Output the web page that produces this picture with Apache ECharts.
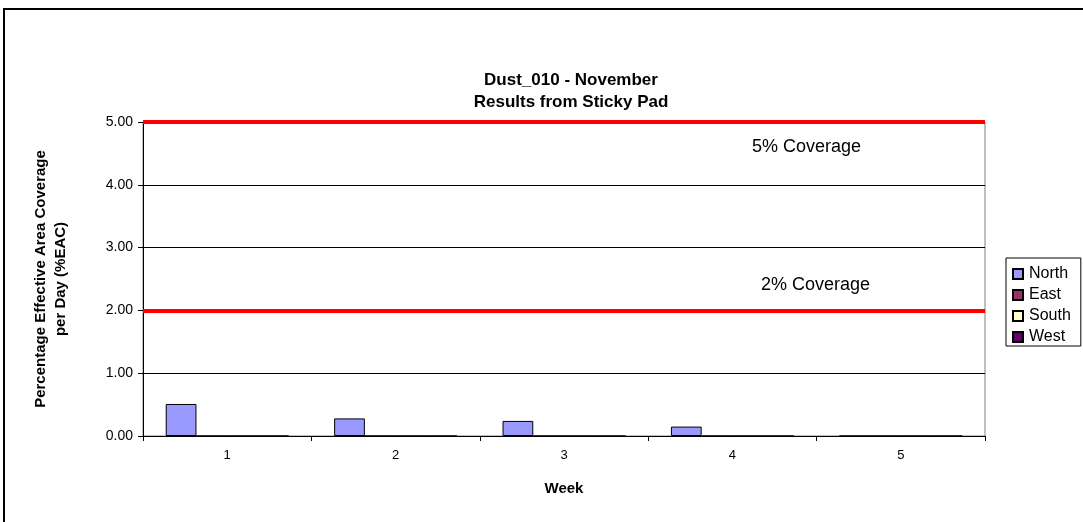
<!DOCTYPE html>
<html>
<head>
<meta charset="utf-8">
<script src="https://cdn.jsdelivr.net/npm/echarts@6/dist/echarts.min.js"></script>
<style>
  html, body { margin: 0; padding: 0; background: #fff; }
  #chart { width: 1083px; height: 522px; }
</style>
</head>
<body>
<div id="chart"></div>
<script>
// data
var weeks = ['1', '2', '3', '4', '5'];
var north = [0.51, 0.28, 0.24, 0.15, 0];
var east = [0, 0, 0, 0, 0];
var south = [0, 0, 0, 0, 0];
var west = [0, 0, 0, 0, 0];
var yTicks = [0, 1, 2, 3, 4, 5];
var limit5 = 5, limit2 = 2;

var font = 'Liberation Sans, Arial, sans-serif';
var chart = echarts.init(document.getElementById('chart'));

function barSeries(name, data, color, extra) {
  var s = {
    name: name,
    type: 'bar',
    data: data,
    barGap: '0%',
    barCategoryGap: '27%',
    itemStyle: { color: color, borderColor: '#000', borderWidth: 1 },
    animation: false
  };
  if (extra) s.markLine = extra;
  return s;
}

var option = {
  animation: false,
  backgroundColor: '#fff',
  textStyle: { fontFamily: font },
  title: {
    text: 'Dust_010 - November\nResults from Sticky Pad',
    left: 566, top: 64, textAlign: 'center',
    textStyle: { fontSize: 17, fontWeight: 'bold', color: '#000', lineHeight: 22, fontFamily: font }
  },
  graphic: [{
    type: 'rect', silent: true, z: -1,
    shape: { x: 4, y: 9, width: 1200, height: 600 },
    style: { fill: 'none', stroke: '#000', lineWidth: 2 }
  }],
  legend: {
    orient: 'vertical',
    left: 1006, top: 258,
    itemWidth: 10, itemHeight: 10, itemGap: 5,
    padding: [8, 10, 1, 6],
    borderColor: '#000', borderWidth: 1,
    icon: 'rect',
    textStyle: { fontSize: 16, color: '#000', fontFamily: font, padding: [0, 0, 0, 1] },
    data: ['North', 'East', 'South', 'West']
  },
  grid: {
    left: 143, right: 98, top: 122, bottom: 86,
    show: true, borderColor: '#808080', borderWidth: 1
  },
  xAxis: {
    type: 'category',
    data: weeks,
    name: 'Week',
    nameLocation: 'middle',
    nameGap: 45,
    nameTextStyle: { fontSize: 15, fontWeight: 'bold', color: '#000' },
    axisLine: { lineStyle: { color: '#000', width: 1 } },
    axisTick: { show: true, length: 5, lineStyle: { color: '#000' } },
    axisLabel: { fontSize: 13, color: '#000', margin: 13 }
  },
  yAxis: {
    type: 'value',
    min: yTicks[0], max: yTicks[yTicks.length - 1], interval: 1,
    name: 'Percentage Effective Area Coverage\nper Day (%EAC)',
    nameLocation: 'middle',
    nameGap: 72,
    nameTextStyle: { fontSize: 15, fontWeight: 'bold', color: '#000', lineHeight: 20 },
    axisLine: { show: true, lineStyle: { color: '#000', width: 1 } },
    axisTick: { show: true, length: 5, lineStyle: { color: '#000' } },
    splitLine: { show: true, lineStyle: { color: '#000', width: 1 } },
    axisLabel: {
      fontSize: 14, color: '#000', margin: 10,
      formatter: function (v) { return v.toFixed(2); }
    }
  },
  series: [
    barSeries('North', north, '#9999FF', {
      silent: true, symbol: 'none', animation: false,
      lineStyle: { color: '#FF0000', width: 4, type: 'solid' },
      data: [
        { yAxis: limit5, label: { show: true, position: 'insideEndBottom', formatter: '5% Coverage',
          fontSize: 18, color: '#000', fontFamily: font, padding: [11, 119, 0, 0] } },
        { yAxis: limit2, label: { show: true, position: 'insideEndTop', formatter: '2% Coverage',
          fontSize: 18, color: '#000', fontFamily: font, padding: [0, 110, 11, 0] } }
      ]
    }),
    barSeries('East', east, '#993366'),
    barSeries('South', south, '#FFFFCC'),
    barSeries('West', west, '#660066')
  ]
};

chart.setOption(option);
</script>
</body>
</html>
